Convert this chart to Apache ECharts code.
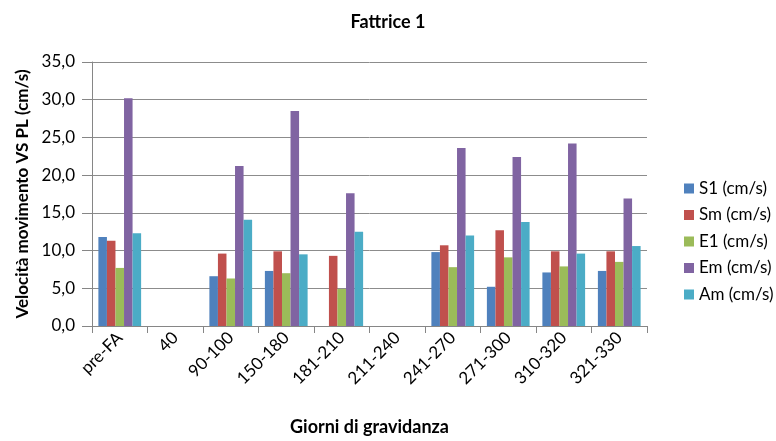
<!DOCTYPE html>
<html>
<head>
<meta charset="utf-8">
<script src="https://cdn.jsdelivr.net/npm/echarts@6/dist/echarts.min.js"></script>
<style>
  html, body { margin: 0; padding: 0; background: #fff; }
  #chart { width: 776px; height: 441px; }
</style>
</head>
<body>
<div id="chart"></div>
<script>
// Periodi di gravidanza (asse x)
const categories = ['pre-FA', '40', '90-100', '150-180', '181-210', '211-240', '241-270', '271-300', '310-320', '321-330'];

// Velocità (cm/s) per ciascun parametro; null = nessuna misura
const s1 = [11.8, null, 6.6, 7.3, null, null, 9.8, 5.2, 7.1, 7.3];
const sm = [11.3, null, 9.6, 9.9, 9.3, null, 10.7, 12.7, 9.9, 9.9];
const e1 = [7.7, null, 6.3, 7.0, 4.9, null, 7.8, 9.1, 7.9, 8.5];
const em = [30.2, null, 21.2, 28.5, 17.6, null, 23.6, 22.4, 24.2, 16.9];
const am = [12.3, null, 14.1, 9.5, 12.5, null, 12.0, 13.8, 9.6, 10.6];

const seriesNames = ['S1 (cm/s)', 'Sm (cm/s)', 'E1 (cm/s)', 'Em (cm/s)', 'Am (cm/s)'];
const seriesData = [s1, sm, e1, em, am];
const colors = ['#4F81BD', '#C0504D', '#9BBB59', '#8064A2', '#4BACC6'];

const FONT = 'Lato, "Open Sans", sans-serif';
const fmt = v => v.toFixed(1).replace('.', ',');

const chart = echarts.init(document.getElementById('chart'), null, { renderer: 'canvas' });
chart.setOption({
  animation: false,
  backgroundColor: '#ffffff',
  color: colors,
  title: {
    text: 'Fattrice 1',
    left: 'center',
    top: 8,
    textStyle: { fontFamily: FONT, fontSize: 18, fontWeight: 'bold', color: '#000' }
  },
  legend: {
    orient: 'vertical',
    left: 679,
    top: 175,
    itemWidth: 10,
    itemHeight: 10,
    itemGap: 9.5,
    icon: 'rect',
    textStyle: { fontFamily: FONT, fontSize: 17, lineHeight: 17, color: '#000' },
    data: seriesNames
  },
  grid: { left: 92, right: 129, top: 62, bottom: 104, containLabel: false },
  xAxis: {
    type: 'category',
    data: categories,
    name: 'Giorni di gravidanza',
    nameLocation: 'middle',
    nameGap: 92,
    nameTextStyle: { fontFamily: FONT, fontSize: 18, fontWeight: 'bold', color: '#000' },
    axisLine: { lineStyle: { color: '#868686' } },
    axisTick: { show: true, length: 7, lineStyle: { color: '#868686' } },
    axisLabel: { rotate: 45, interval: 0, fontFamily: FONT, fontSize: 17, color: '#000', margin: 9 }
  },
  yAxis: {
    type: 'value',
    min: 0,
    max: 35,
    interval: 5,
    name: 'Velocità movimento VS PL (cm/s)',
    nameLocation: 'middle',
    nameGap: 61,
    nameTextStyle: { fontFamily: FONT, fontSize: 17, fontWeight: 'bold', color: '#000' },
    axisLine: { show: true, lineStyle: { color: '#868686' } },
    axisTick: { show: true, length: 10, lineStyle: { color: '#868686' } },
    axisLabel: { fontFamily: FONT, fontSize: 17, color: '#000', margin: 17, formatter: fmt },
    splitLine: { lineStyle: { color: '#8c8c8c', width: 1 } }
  },
  series: seriesNames.map((name, i) => ({
    name,
    type: 'bar',
    data: seriesData[i],
    barGap: '0%',
    barCategoryGap: '23%',
    itemStyle: { color: colors[i] }
  }))
});
</script>
</body>
</html>
